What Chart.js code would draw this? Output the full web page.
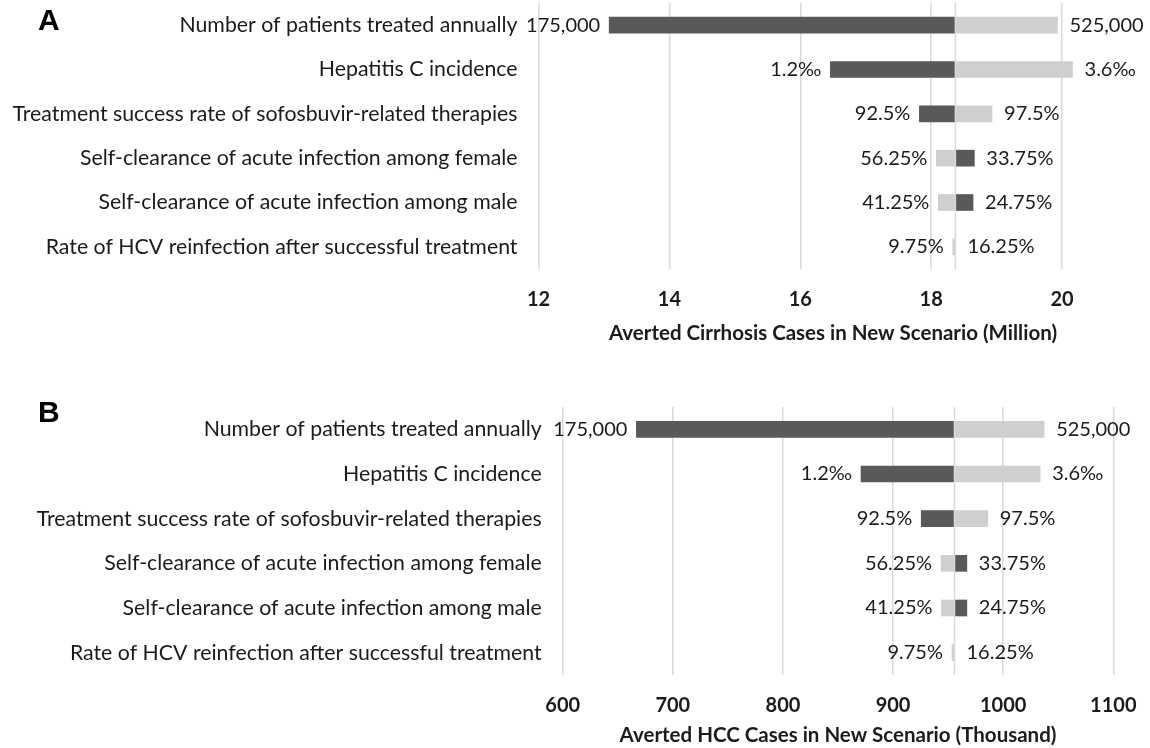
<!DOCTYPE html>
<html>
<head>
<meta charset="utf-8">
<title>Tornado - averted cirrhosis and HCC</title>
<script src="https://cdn.jsdelivr.net/npm/chart.js@4.4.0/dist/chart.umd.min.js"></script>
<style>
  body { margin: 0; background: #fff; width: 1150px; height: 748px; overflow: hidden; position: relative; }
  .panel { position: absolute; left: 0; width: 1150px; }
  .tag { position: absolute; left: 38px; z-index: 2; font: bold 30px "Liberation Sans", Arial, sans-serif; color: #000; }
</style>
</head>
<body>
<div class="panel" style="top:0; height:350px"><canvas id="chartA"></canvas></div>
<div class="panel" style="top:400px; height:348px"><canvas id="chartB"></canvas></div>
<div class="tag" style="top:3px">A</div>
<div class="tag" style="top:395px">B</div>

<script>
var categories = [
  'Number of patients treated annually',
  'Hepatitis C incidence',
  'Treatment success rate of sofosbuvir-related therapies',
  'Self-clearance of acute infection among female',
  'Self-clearance of acute infection among male',
  'Rate of HCV reinfection after successful treatment'
];
var leftLabels = ['175,000', '1.2\u2030', '92.5%', '56.25%', '41.25%', '9.75%'];
var rightLabels = ['525,000', '3.6\u2030', '97.5%', '33.75%', '24.75%', '16.25%'];

// A: averted cirrhosis cases (million)
var baseA = 18.37;
var darkA = [13.08, 16.46, 17.82, 18.66, 18.64, 18.37];
var lightA = [19.93, 20.16, 18.93, 18.08, 18.11, 18.33];
var ticksA = [12, 14, 16, 18, 20];

// B: averted HCC cases (thousand)
var baseB = 955.8;
var darkB = [666.9, 870.9, 925.6, 967, 967, 955.8];
var lightB = [1037.2, 1033.6, 986, 943.6, 944, 953.5];
var ticksB = [600, 700, 800, 900, 1000, 1100];

var textColor = '#1b1b1b';
var gridColor = '#d9d9d9';

// base line + end labels
var tornadoLabels = {
  id: 'tornadoLabels',
  afterDatasetsDraw: function (chart, args, o) {
    var ctx = chart.ctx, x = chart.scales.x, y = chart.scales.y;
    var bx = x.getPixelForValue(o.base);
    var ds = chart.data.datasets;
    ctx.save();
    ctx.strokeStyle = gridColor;
    ctx.lineWidth = 1.5;
    ctx.beginPath();
    ctx.moveTo(bx, chart.chartArea.top);
    ctx.lineTo(bx, chart.chartArea.bottom);
    ctx.stroke();
    ctx.font = '20px Lato';
    ctx.fillStyle = textColor;
    ctx.textBaseline = 'middle';
    for (var i = 0; i < categories.length; i++) {
      var yy = y.getPixelForValue(i);
      var a = x.getPixelForValue(ds[0].data[i][1]);
      var b = x.getPixelForValue(ds[1].data[i][1]);
      ctx.textAlign = 'right';
      ctx.fillText(leftLabels[i], Math.min(a, b, bx) - 9, yy);
      ctx.textAlign = 'left';
      ctx.fillText(rightLabels[i], Math.max(a, b, bx) + 12, yy);
    }
    ctx.restore();
  }
};

function makeChart(id, base, dark, light, tickVals, min, max, title, pad, yWidth, xHeight) {
  return new Chart(document.getElementById(id), {
    type: 'bar',
    data: {
      labels: categories,
      datasets: [{
        label: 'low',
        data: dark.map(function (v) { return [base, v]; }),
        backgroundColor: '#595959',
        grouped: false,
        barThickness: 16,
        clip: false
      }, {
        label: 'high',
        data: light.map(function (v) { return [base, v]; }),
        backgroundColor: '#cfcfcf',
        grouped: false,
        barThickness: 16,
        clip: false
      }]
    },
    options: {
      indexAxis: 'y',
      responsive: true,
      maintainAspectRatio: false,
      animation: false,
      layout: { padding: pad },
      plugins: {
        legend: { display: false },
        tooltip: { enabled: false },
        tornadoLabels: { base: base }
      },
      scales: {
        x: {
          type: 'linear',
          min: min,
          max: max,
          afterBuildTicks: function (s) {
            s.ticks = tickVals.map(function (v) { return { value: v }; });
          },
          ticks: {
            padding: 19,
            color: textColor,
            font: { family: 'Lato', size: 20, weight: 'bold' },
            callback: function (v) { return String(v); }
          },
          grid: { color: gridColor, lineWidth: 1.5, drawTicks: false },
          border: { display: false },
          title: {
            display: true,
            text: title,
            color: textColor,
            font: { family: 'Lato', size: 20.5, weight: 'bold' },
            padding: { top: 0, bottom: 0 }
          },
          afterFit: function (s) {
            s.height = xHeight;
            s.paddingLeft = 0;
            s.paddingRight = 0;
          }
        },
        y: {
          ticks: { padding: 21, color: textColor, font: { family: 'Lato', size: 21.3 } },
          grid: { display: false, drawTicks: false },
          border: { display: false },
          afterFit: function (s) {
            s.width = yWidth;
            s.paddingTop = 0;
            s.paddingBottom = 0;
          }
        }
      }
    },
    plugins: [tornadoLabels]
  });
}

makeChart('chartA', baseA, darkA, lightA, ticksA, 12, 21,
  'Averted Cirrhosis Cases in New Scenario (Million)',
  { top: 3, right: 22.5, bottom: 4, left: 0 }, 538.5, 77);

makeChart('chartB', baseB, darkB, lightB, ticksB, 600, 1100,
  'Averted HCC Cases in New Scenario (Thousand)',
  { top: 7, right: 36.7, bottom: 0, left: 0 }, 562.7, 73);
</script>
</body>
</html>
